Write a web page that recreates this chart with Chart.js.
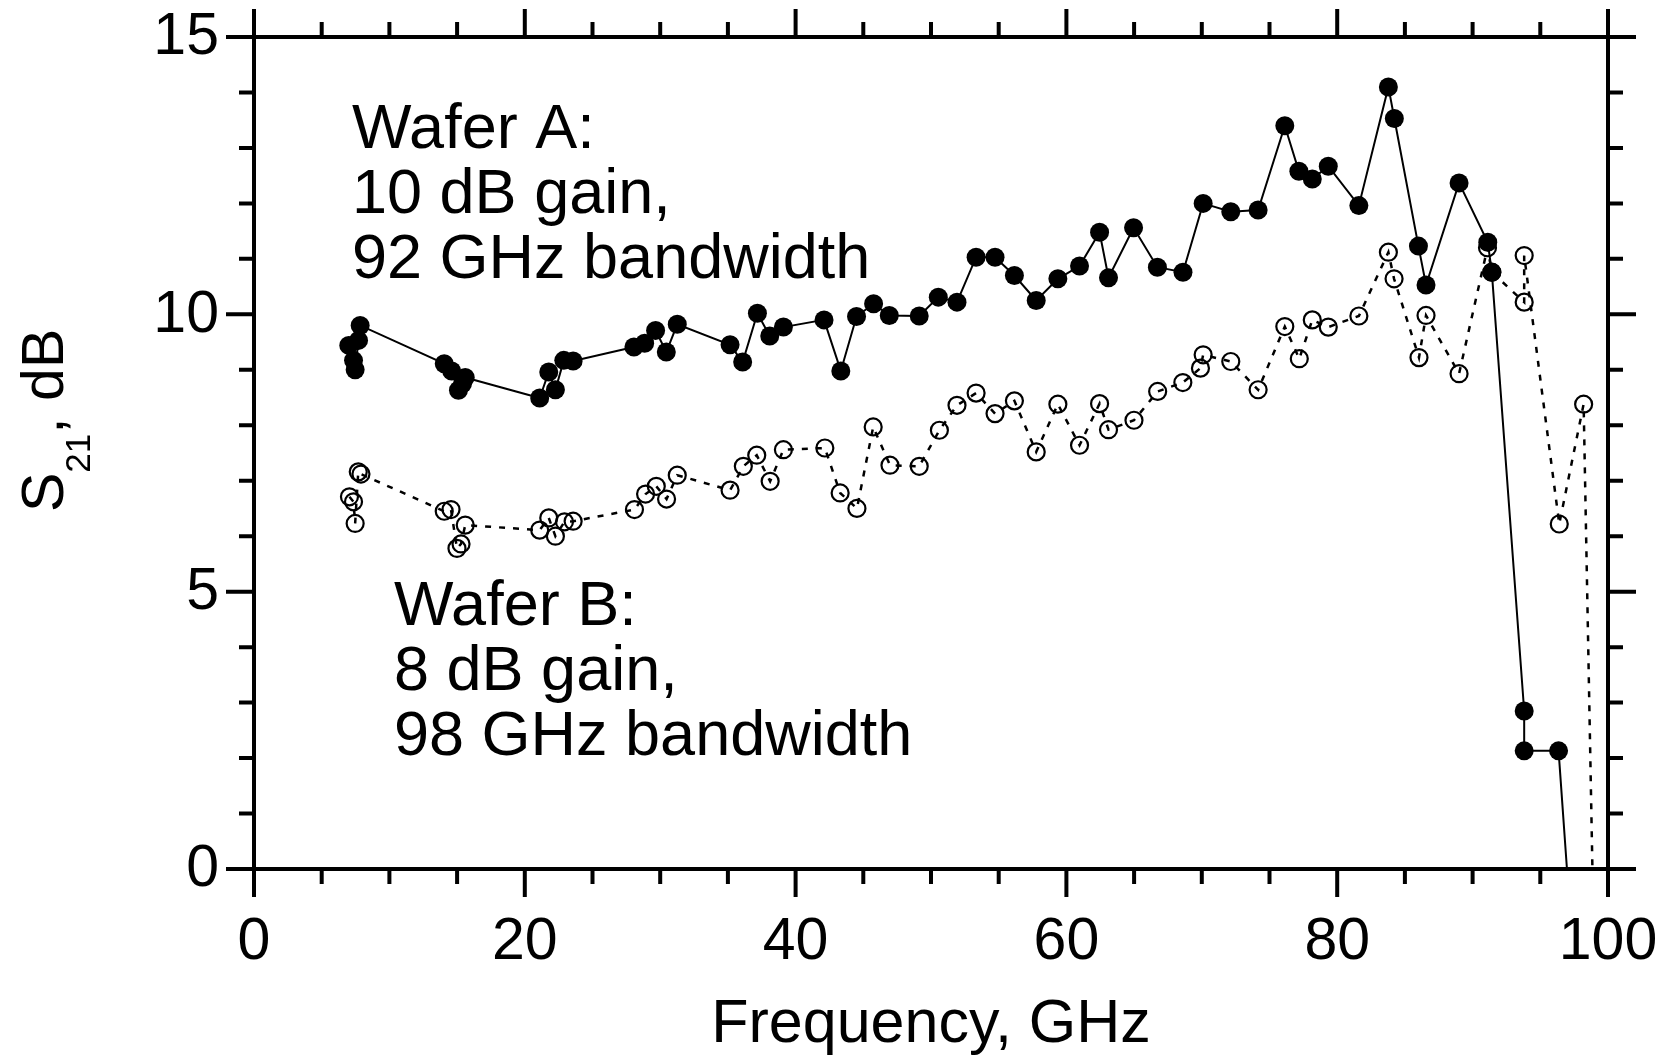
<!DOCTYPE html>
<html>
<head>
<meta charset="utf-8">
<script src="https://cdn.jsdelivr.net/npm/chart.js@4.4.1/dist/chart.umd.min.js"></script>
<style>
  html, body { margin: 0; padding: 0; background: #fff; }
  #wrap { width: 1670px; height: 1062px; }
</style>
</head>
<body>
<div id="wrap"><canvas id="s21Chart" width="1670" height="1062"></canvas></div>
<script>
// Wafer A: S21 (dB) vs frequency (GHz), filled markers, solid line
const waferAFreq = [7.0, 7.35, 7.47, 7.72, 7.84, 14.05, 14.6, 15.1, 15.4, 15.6,
  21.1, 21.77, 22.26, 22.88, 23.57, 28.06, 28.85, 29.66, 30.45, 31.26,
  35.16, 36.09, 37.18, 38.09, 39.1, 42.1, 43.34, 44.5, 45.76, 46.92,
  49.13, 50.54, 51.92, 53.33, 54.73, 56.16, 57.77, 59.37, 60.97, 62.45,
  63.11, 64.96, 66.72, 68.61, 70.1, 72.14, 74.16, 76.13, 77.17, 78.16,
  79.34, 81.6, 83.78, 84.22, 86.0, 86.56, 89.0, 91.12, 91.42, 93.81,
  93.81, 96.35, 98.0];
const waferAGain = [9.44, 9.17, 9.0, 9.53, 9.8, 9.11, 8.98, 8.63, 8.75, 8.86,
  8.49, 8.96, 8.64, 9.17, 9.16, 9.41, 9.48, 9.71, 9.32, 9.82,
  9.45, 9.14, 10.02, 9.61, 9.77, 9.9, 8.98, 9.96, 10.19, 9.98,
  9.97, 10.31, 10.22, 11.03, 11.03, 10.7, 10.25, 10.64, 10.87, 11.48,
  10.66, 11.56, 10.85, 10.76, 12.0, 11.85, 11.88, 13.4, 12.58, 12.44,
  12.67, 11.96, 14.1, 13.53, 11.23, 10.53, 12.37, 11.3, 10.76, 2.85,
  2.13, 2.13, -3.55];

// Wafer B: open markers, dashed line
const waferBFreq = [7.05, 7.35, 7.47, 7.7, 7.9, 14.05, 14.55, 14.99, 15.29, 15.6,
  21.1, 21.77, 22.26, 22.93, 23.57, 28.1, 28.92, 29.71, 30.47, 31.26,
  35.16, 36.14, 37.13, 38.12, 39.1, 42.16, 43.29, 44.53, 45.73, 46.97,
  49.13, 50.62, 51.92, 53.33, 54.73, 56.16, 57.77, 59.37, 60.97, 62.45,
  63.11, 64.99, 66.74, 68.6, 69.9, 70.1, 72.14, 74.16, 76.13, 77.2,
  78.16, 79.34, 81.6, 83.78, 84.2, 86.04, 86.56, 89.0, 91.1, 91.42,
  93.81, 93.81, 96.4, 98.2, 99.3];
const waferBGain = [6.71, 6.62, 6.23, 7.16, 7.12, 6.45, 6.48, 5.78, 5.86, 6.2,
  6.11, 6.33, 6.0, 6.26, 6.27, 6.48, 6.76, 6.9, 6.67, 7.1,
  6.83, 7.26, 7.46, 6.99, 7.56, 7.59, 6.78, 6.5, 7.97, 7.28,
  7.26, 7.91, 8.36, 8.58, 8.21, 8.44, 7.52, 8.38, 7.64, 8.39,
  7.92, 8.09, 8.61, 8.77, 9.03, 9.27, 9.15, 8.64, 9.78, 9.2,
  9.9, 9.77, 9.97, 11.12, 10.64, 9.22, 9.98, 8.93, 11.2, 10.76,
  10.22, 11.06, 6.22, 8.38, -5.8];

const xTickLabels = ['0', '20', '40', '60', '80', '100'];
const yTickLabels = ['0', '5', '10', '15'];
const xMinorStep = 5;
const yMinorStep = 1;

const FONT = '"Liberation Sans", Arial, Helvetica, sans-serif';

function toPoints(xs, ys) {
  return xs.map((x, i) => ({ x: x, y: ys[i] }));
}

const framePlugin = {
  id: 'frame',
  afterDraw(chart) {
    const ctx = chart.ctx;
    const xs = chart.scales.x;
    const ys = chart.scales.y;
    const L = xs.getPixelForValue(0), R = xs.getPixelForValue(100);
    const T = ys.getPixelForValue(15), B = ys.getPixelForValue(0);
    ctx.save();
    ctx.strokeStyle = '#000';
    ctx.lineWidth = 4;
    ctx.lineCap = 'butt';
    ctx.strokeRect(L, T, R - L, B - T);

    const majorX = xTickLabels.map(Number);
    const majorY = yTickLabels.map(Number);
    ctx.beginPath();
    for (let v = 0; v <= 100; v += xMinorStep) {
      const px = xs.getPixelForValue(v);
      const len = majorX.includes(v) ? 28 : 15;
      ctx.moveTo(px, B); ctx.lineTo(px, B + len);
      ctx.moveTo(px, T); ctx.lineTo(px, T - len);
    }
    for (let v = 0; v <= 15; v += yMinorStep) {
      const py = ys.getPixelForValue(v);
      const len = majorY.includes(v) ? 28 : 15;
      ctx.moveTo(L, py); ctx.lineTo(L - len, py);
      ctx.moveTo(R, py); ctx.lineTo(R + len, py);
    }
    ctx.stroke();

    ctx.fillStyle = '#000';
    ctx.font = '59px ' + FONT;
    ctx.textAlign = 'center';
    ctx.textBaseline = 'alphabetic';
    xTickLabels.forEach((t) => {
      ctx.fillText(t, xs.getPixelForValue(Number(t)), 959);
    });
    ctx.textAlign = 'right';
    ctx.textBaseline = 'middle';
    yTickLabels.forEach((t) => {
      ctx.fillText(t, 219, ys.getPixelForValue(Number(t)) + 1);
    });

    // axis titles
    ctx.font = '61px ' + FONT;
    ctx.textAlign = 'center';
    ctx.textBaseline = 'alphabetic';
    ctx.fillText('Frequency, GHz', (L + R) / 2, 1042);

    ctx.save();
    ctx.translate(63, 512);
    ctx.rotate(-Math.PI / 2);
    ctx.textAlign = 'left';
    ctx.font = '59px ' + FONT;
    ctx.fillText('S', 0, 0);
    let w = ctx.measureText('S').width;
    ctx.font = '35px ' + FONT;
    ctx.fillText('21', w, 27);
    w += ctx.measureText('21').width;
    ctx.font = '59px ' + FONT;
    ctx.fillText(', dB', w, 0);
    ctx.restore();

    // annotations
    ctx.textAlign = 'left';
    ctx.font = '63px ' + FONT;
    ['Wafer A:', '10 dB gain,', '92 GHz bandwidth'].forEach((s, i) => {
      ctx.fillText(s, 352, 148 + i * 65);
    });
    ['Wafer B:', '8 dB gain,', '98 GHz bandwidth'].forEach((s, i) => {
      ctx.fillText(s, 394, 625 + i * 65);
    });
    ctx.restore();
  }
};

new Chart(document.getElementById('s21Chart'), {
  type: 'scatter',
  data: {
    datasets: [
      {
        label: 'Wafer A',
        data: toPoints(waferAFreq, waferAGain),
        showLine: true,
        borderColor: '#000',
        borderWidth: 2,
        pointRadius: 9.5,
        pointBackgroundColor: '#000',
        pointBorderColor: '#000',
        pointBorderWidth: 0,
        tension: 0
      },
      {
        label: 'Wafer B',
        data: toPoints(waferBFreq, waferBGain),
        showLine: true,
        borderColor: '#000',
        borderWidth: 2.5,
        borderDash: [6, 8],
        pointRadius: 8.5,
        pointBackgroundColor: 'rgba(0,0,0,0)',
        pointBorderColor: '#000',
        pointBorderWidth: 2.2,
        tension: 0
      }
    ]
  },
  options: {
    responsive: false,
    animation: false,
    devicePixelRatio: 1,
    layout: { padding: { left: 254, top: 37, right: 62, bottom: 193 } },
    scales: {
      x: { type: 'linear', min: 0, max: 100, display: false },
      y: { type: 'linear', min: 0, max: 15, display: false }
    },
    plugins: {
      legend: { display: false },
      tooltip: { enabled: false }
    }
  },
  plugins: [framePlugin]
});
</script>
</body>
</html>
